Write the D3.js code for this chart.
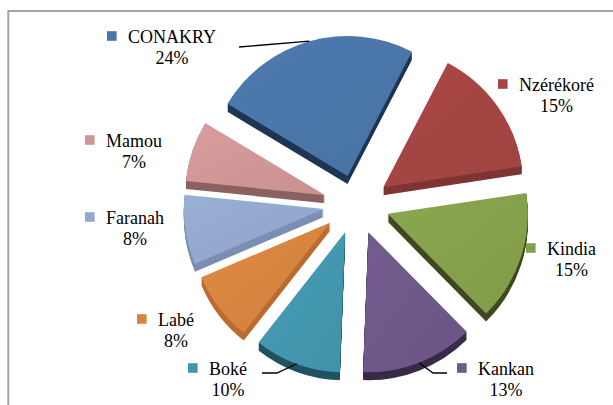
<!DOCTYPE html>
<html><head><meta charset="utf-8">
<script src="https://cdn.jsdelivr.net/npm/d3@7"></script>
</head>
<body style="margin:0">
<script>
// ---- data ----
const categories = ["CONAKRY","Nzérékoré","Kindia","Kankan","Boké","Labé","Faranah","Mamou"];
const values = [24,15,15,13,10,8,8,7];
const pctLabels = ["24%","15%","15%","13%","10%","8%","8%","7%"];

// ---- styles / layout ----
const topColors  = ["#4A75A8","#A44543","#85A04B","#6E5789","#4396AD","#D6843F","#94A8CD","#D09595"];
const sideColors = ["#1F3653","#7E3533","#3D4A20","#382B49","#215262","#BB6C31","#7C8EB4","#8B6161"];
// label anchors: [name start x, name baseline y]
const labelAnchors = [[128,43],[519,91],[547,255],[478,375],[209,375],[158,326],[106,224],[106,147]];
const leaderSlices = {0:"conakry",3:"right",4:"left"};
const FONT = "Liberation Serif";

const W = 613, H = 405;
const cx = 356.5, cy = 204.5, R = 140, explode = 33, depth = 8, vy = 0.9;
const startDeg = -59;

const svg = d3.select("body").append("svg").attr("width", W).attr("height", H).style("display", "block");

// frame
svg.append("rect").attr("x", 8.3).attr("y", 11).attr("width", 700).attr("height", 500)
  .attr("fill", "none").attr("stroke", "#a3a3a3").attr("stroke-width", 2);

const pie = d3.pie().sort(null).value(d => d)
  .startAngle(startDeg * Math.PI / 180).endAngle((startDeg + 360) * Math.PI / 180);
const arcs = pie(values);
const arc = d3.arc().innerRadius(0).outerRadius(R);

arcs.forEach((a, i) => {
  const mid = (a.startAngle + a.endAngle) / 2;
  a.ox = cx + explode * Math.sin(mid);
  a.oy = cy - explode * Math.cos(mid) * vy;
  a.mid = mid;
});

const g = svg.append("g");
// sides (extrusion)
arcs.forEach((a, i) => {
  for (let k = depth; k >= 1; k--) {
    g.append("path").attr("d", arc(a))
      .attr("transform", `translate(${a.ox},${a.oy + k})`)
      .attr("fill", sideColors[i]);
  }
});
// top faces
const defs = svg.append("defs");
arcs.forEach((a, i) => {
  const gid = "grad" + i;
  const lgd = defs.append("linearGradient").attr("id", gid)
    .attr("x1", "0%").attr("y1", "0%").attr("x2", "100%").attr("y2", "100%");
  lgd.append("stop").attr("offset", "0%").attr("stop-color", d3.color(topColors[i]).brighter(0.12));
  lgd.append("stop").attr("offset", "100%").attr("stop-color", d3.color(topColors[i]).darker(0.08));
  g.append("path").attr("d", arc(a))
    .attr("transform", `translate(${a.ox},${a.oy})`)
    .attr("fill", `url(#${gid})`);
});

// labels
const lg = svg.append("g");
arcs.forEach((a, i) => {
  const [x, y] = labelAnchors[i];
  const name = lg.append("text").attr("x", x).attr("y", y)
    .attr("font-size", 18).style("font-family", FONT)
    .text(categories[i]);
  const w = name.node().getComputedTextLength();
  lg.append("text").attr("x", x + w / 2).attr("y", y + 21).attr("text-anchor", "middle")
    .attr("font-size", 18).style("font-family", FONT)
    .text(pctLabels[i]);
  lg.append("rect").attr("x", x - 21).attr("y", y - 11.8).attr("width", 9.6).attr("height", 9.6)
    .attr("fill", topColors[i]);
  a.nameEnd = x + w; a.nameStart = x; a.base = y;
});

// leader lines
const line = d3.line();
Object.keys(leaderSlices).forEach(k => {
  const i = +k, a = arcs[i], type = leaderSlices[k];
  const p = [a.ox + R * Math.sin(a.mid), a.oy - R * Math.cos(a.mid)];
  let pts;
  if (type === "conakry") {
    pts = [p, [a.nameEnd + 23, a.base + 4]];
  } else if (type === "left") {
    pts = [p, [a.nameEnd + 30, a.base - 2], [a.nameEnd + 15, a.base - 2]];
  } else {
    pts = [p, [a.nameStart - 45, a.base - 2], [a.nameStart - 31, a.base - 2]];
  }
  svg.append("path").attr("d", line(pts)).attr("fill", "none")
    .attr("stroke", "#000").attr("stroke-width", 1.3);
});
</script>
</body></html>
